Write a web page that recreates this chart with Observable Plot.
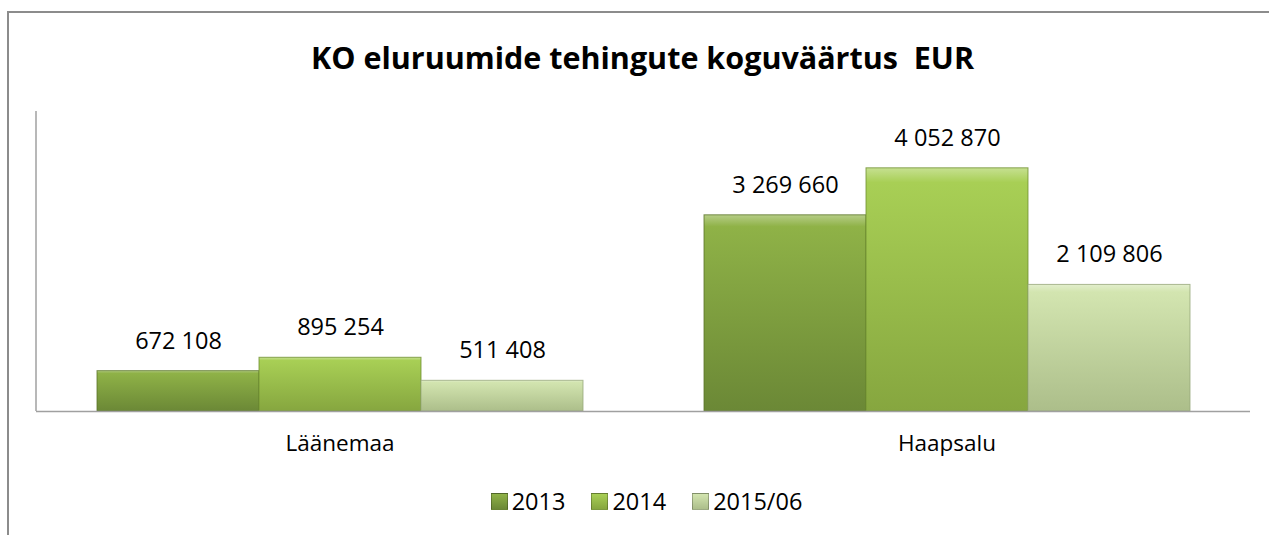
<!DOCTYPE html>
<html>
<head>
<meta charset="utf-8">
<script src="https://cdn.jsdelivr.net/npm/d3@7"></script>
<script src="https://cdn.jsdelivr.net/npm/@observablehq/plot@0.6"></script>
<style>
  html, body { margin: 0; padding: 0; background: #fff; }
  #wrap { position: relative; width: 1269px; height: 535px; overflow: hidden; font-family: "Open Sans", sans-serif; }
  #frame { position: absolute; left: 7px; top: 11px; right: -5px; bottom: -5px; border-top: 2px solid #8c8c8c; border-left: 2px solid #8c8c8c; }
  #chart { position: absolute; left: 0; top: 0; }
  #title { position: absolute; left: 8px; width: 1269px; top: 36px; text-align: center; font-weight: 700; font-size: 30.5px; white-space: pre; color: #000; }
  #legend { position: absolute; left: 0; width: 1269px; top: 485px; display: flex; justify-content: center; align-items: center; font-size: 23.5px; color: #000; padding-left: 24px; box-sizing: border-box; }
  .item { display: flex; align-items: center; margin: 0 13px; }
  .sw { width: 17px; height: 17px; margin-right: 4px; border: 1px solid rgba(0,0,0,0.25); box-sizing: border-box; }
</style>
</head>
<body>
<div id="wrap">
  <div id="frame"></div>
  <div id="chart"></div>
  <div id="title">KO eluruumide tehingute koguväärtus  EUR</div>
  <div id="legend"></div>
</div>
<script>
const categories = ["Läänemaa", "Haapsalu"];
const seriesNames = ["2013", "2014", "2015/06"];
const values2013 = [672108, 3269660];
const values2014 = [895254, 4052870];
const values2015 = [511408, 2109806];

const seriesValues = [values2013, values2014, values2015];
const gradTop = ["#8fb247", "#a8cf55", "#d3e5b0"];
const gradBottom = ["#6b8836", "#86a63f", "#acbe8a"];
const strokes = ["#5a7428", "#6f8e30", "#97a87a"];
const gradIds = ["g2013", "g2014", "g2015"];

const data = [];
categories.forEach((c, ci) => {
  seriesNames.forEach((s, si) => {
    data.push({category: c, series: s, value: seriesValues[si][ci]});
  });
});

const fmt = d3.formatLocale({decimal: ",", thousands: " ", grouping: [3], currency: ["", ""]}).format(",d");

const plot = Plot.plot({
  width: 1269,
  height: 535,
  marginTop: 111,
  marginBottom: 124,
  marginLeft: 36,
  marginRight: 19,
  style: {fontFamily: "Open Sans, sans-serif", fontSize: "22.5px", color: "#000", background: "transparent"},
  fx: {domain: categories, padding: 0, label: null, tickSize: 0, tickPadding: 24, axis: "bottom"},
  x: {domain: seriesNames, paddingInner: 0, paddingOuter: 0.373, axis: null},
  y: {domain: [0, 5000000], axis: null},
  color: {type: "ordinal", domain: seriesNames, range: gradIds.map(id => `url(#${id})`)},
  marks: [
    Plot.barY(data, {fx: "category", x: "series", y: "value", fill: "series",
      stroke: d => strokes[seriesNames.indexOf(d.series)], strokeWidth: 1, strokeOpacity: 0.8}),
    Plot.ruleY([0], {stroke: "#a0a0a0", strokeWidth: 1.5}),
    Plot.text(data, {fx: "category", x: "series", y: "value", text: d => fmt(d.value),
      dy: -30, fontSize: 23.5, fill: "#000", lineAnchor: "middle"})
  ]
});

// gradients
const ns = "http://www.w3.org/2000/svg";
const defs = document.createElementNS(ns, "defs");
gradIds.forEach((id, i) => {
  const g = document.createElementNS(ns, "linearGradient");
  g.setAttribute("id", id);
  g.setAttribute("x1", "0"); g.setAttribute("y1", "0");
  g.setAttribute("x2", "0"); g.setAttribute("y2", "1");
  const stops = [[0, d3.interpolateRgb(gradTop[i], "#ffffff")(0.35)], [0.06, gradTop[i]], [1, gradBottom[i]]];
  stops.forEach(([o, c]) => {
    const s = document.createElementNS(ns, "stop");
    s.setAttribute("offset", o);
    s.setAttribute("stop-color", c);
    g.appendChild(s);
  });
  defs.appendChild(g);
});
plot.insertBefore(defs, plot.firstChild);

// left axis line from the y scale
const ys = plot.scale("y");
const yTop = ys.apply(5000000), yBot = ys.apply(0);
const line = document.createElementNS(ns, "line");
line.setAttribute("x1", 36); line.setAttribute("x2", 36);
line.setAttribute("y1", yTop); line.setAttribute("y2", yBot);
line.setAttribute("stroke", "#a0a0a0"); line.setAttribute("stroke-width", 1.5);
plot.appendChild(line);

document.getElementById("chart").appendChild(plot);

// legend
const legend = document.getElementById("legend");
seriesNames.forEach((s, i) => {
  const it = document.createElement("div");
  it.className = "item";
  const sw = document.createElement("div");
  sw.className = "sw";
  sw.style.background = `linear-gradient(${gradTop[i]}, ${gradBottom[i]})`;
  const t = document.createElement("span");
  t.textContent = s;
  it.appendChild(sw); it.appendChild(t);
  legend.appendChild(it);
});
</script>
</body>
</html>
